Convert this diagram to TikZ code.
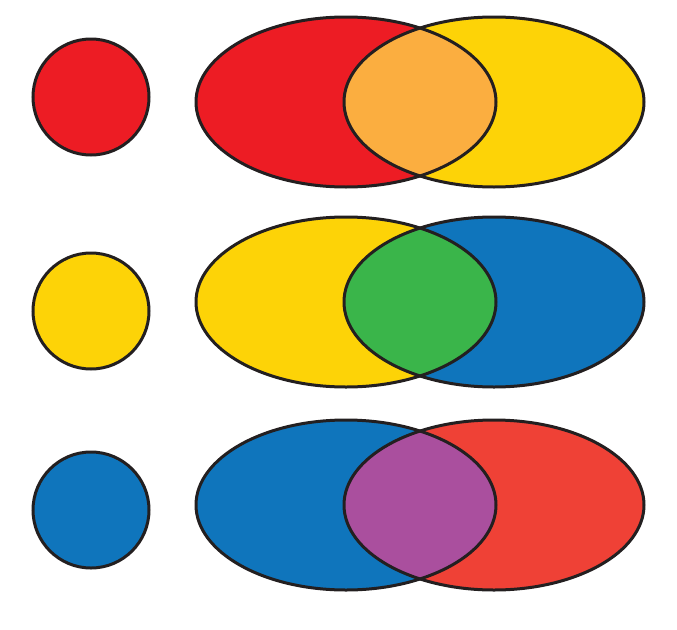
\documentclass[tikz,border=0pt]{standalone}
\usepackage{tikz}

\definecolor{redA}{HTML}{ED1C24}
\definecolor{redB}{HTML}{EF4136}
\definecolor{yellowA}{HTML}{FDD307}
\definecolor{blueA}{HTML}{0F75BC}
\definecolor{orangeA}{HTML}{FBAE40}
\definecolor{greenA}{HTML}{3AB54A}
\definecolor{purpleA}{HTML}{AA4F9E}
\definecolor{edgeA}{HTML}{231F20}

\begin{document}
\begin{tikzpicture}[x=1pt,y=-1pt,
                    outline/.style={draw=edgeA,line width=3pt},
                    dot/.style={outline}]
\useasboundingbox (0,0) rectangle (677,629);

% top row
\draw[dot,fill=redA] (91,97) circle [radius=58];
\fill[redA] (346,102) ellipse [x radius=150,y radius=85];
\fill[yellowA] (494,102) ellipse [x radius=150,y radius=85];
\begin{scope}
  \clip (346,102) ellipse [x radius=150,y radius=85];
  \fill[orangeA] (494,102) ellipse [x radius=150,y radius=85];
\end{scope}
\draw[outline] (346,102) ellipse [x radius=150,y radius=85];
\draw[outline] (494,102) ellipse [x radius=150,y radius=85];

% middle row
\draw[dot,fill=yellowA] (91,311) circle [radius=58];
\fill[yellowA] (346,302) ellipse [x radius=150,y radius=85];
\fill[blueA] (494,302) ellipse [x radius=150,y radius=85];
\begin{scope}
  \clip (346,302) ellipse [x radius=150,y radius=85];
  \fill[greenA] (494,302) ellipse [x radius=150,y radius=85];
\end{scope}
\draw[outline] (346,302) ellipse [x radius=150,y radius=85];
\draw[outline] (494,302) ellipse [x radius=150,y radius=85];

% bottom row
\draw[dot,fill=blueA] (91,510) circle [radius=58];
\fill[blueA] (346,505) ellipse [x radius=150,y radius=85];
\fill[redB] (494,505) ellipse [x radius=150,y radius=85];
\begin{scope}
  \clip (346,505) ellipse [x radius=150,y radius=85];
  \fill[purpleA] (494,505) ellipse [x radius=150,y radius=85];
\end{scope}
\draw[outline] (346,505) ellipse [x radius=150,y radius=85];
\draw[outline] (494,505) ellipse [x radius=150,y radius=85];
\end{tikzpicture}
\end{document}
